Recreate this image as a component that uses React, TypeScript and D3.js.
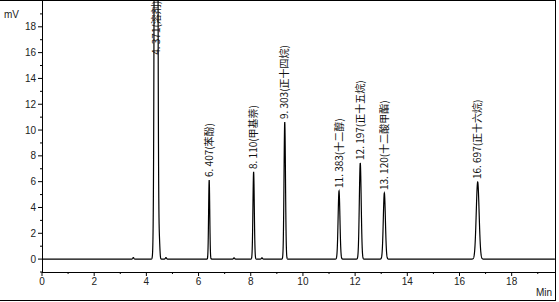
import React from "react";
import * as d3 from "d3";

// Peak table: retention time (min), height (mV), width sigma (min)
const peakTimes = [4.371, 4.5, 6.407, 8.11, 9.303, 11.383, 12.197, 13.12, 16.697];
const peakHeights = [130, 1.1, 6.13, 6.75, 10.62, 5.28, 7.45, 5.12, 5.97];
const peakWidths = [0.04, 0.02, 0.022, 0.026, 0.028, 0.035, 0.036, 0.04, 0.055];
// small baseline disturbances
const bumpTimes = [3.5, 4.75, 7.36, 8.43];
const bumpHeights = [0.12, 0.12, 0.1, 0.1];

const labelTimes = [4.371, 6.407, 8.11, 9.303, 11.383, 12.197, 13.12, 16.697];
const labelTexts = [
  "4. 371(溶剂)",
  "6. 407(苯酚)",
  "8. 110(甲基萘)",
  "9. 303(正十四烷)",
  "11. 383(十二醇)",
  "12. 197(正十五烷)",
  "13. 120(十二酸甲酯)",
  "16. 697(正十六烷)",
];
const labelHeights = [15.6, 6.13, 6.75, 10.62, 5.28, 7.45, 5.12, 5.97];

const xMajorTicks = [0, 2, 4, 6, 8, 10, 12, 14, 16, 18];
const xMinorTicks = [1, 3, 5, 7, 9, 11, 13, 15, 17, 19];
const yMajorTicks = [0, 2, 4, 6, 8, 10, 12, 14, 16, 18];
const yMinorTicks = [-1, 1, 3, 5, 7, 9, 11, 13, 15, 17, 19];

const W = 559;
const H = 302;
const left = 42;
const right = 555;
const axisY = 272;

export default function App() {
  const x = d3.scaleLinear().domain([0, 19.66]).range([left, right]);
  const y = d3.scaleLinear().domain([-1, 20]).range([axisY, 1]);

  const times = d3.range(0, 19.66, 0.004);
  const signal = (t: number) => {
    let v = 0;
    peakTimes.forEach((p, i) => {
      const d = (t - p) / peakWidths[i];
      if (Math.abs(d) < 8) v += peakHeights[i] * Math.exp(-0.5 * d * d);
    });
    bumpTimes.forEach((p, i) => {
      const d = (t - p) / 0.02;
      if (Math.abs(d) < 8) v += bumpHeights[i] * Math.exp(-0.5 * d * d);
    });
    return v;
  };
  const line = d3
    .line<number>()
    .x((t) => x(t))
    .y((t) => y(signal(t)));

  const font = "'Liberation Sans', Arial, sans-serif";
  const cjk = "'Noto Sans CJK SC', sans-serif";

  return (
    <svg
      width={W}
      height={H}
      style={{ position: "absolute", left: 0, top: 0, background: "#fff" }}
    >
      <defs>
        <clipPath id="plot">
          <rect x={left} y={0} width={right - left} height={axisY} />
        </clipPath>
      </defs>
      {/* frame */}
      <line x1={0} y1={0.5} x2={right} y2={0.5} stroke="#000" />
      <line x1={right + 0.5} y1={0} x2={right + 0.5} y2={301} stroke="#000" />
      <line x1={0} y1={300.5} x2={right} y2={300.5} stroke="#000" />

      {/* trace */}
      <path
        d={line(times) || ""}
        fill="none"
        stroke="#000"
        strokeWidth={1.2}
        clipPath="url(#plot)"
      />

      {/* y axis */}
      <line x1={left + 0.5} y1={0} x2={left + 0.5} y2={axisY} stroke="#000" />
      {yMajorTicks.map((v) => (
        <g key={"ym" + v}>
          <line x1={left - 4} x2={left} y1={y(v)} y2={y(v)} stroke="#000" />
          <text
            x={left - 6}
            y={y(v)}
            dy="0.35em"
            textAnchor="end"
            fontSize={10}
            fontFamily={font}
            fill="#222"
          >
            {v}
          </text>
        </g>
      ))}
      {yMinorTicks.map((v) => (
        <line key={"yn" + v} x1={left - 2} x2={left} y1={y(v)} y2={y(v)} stroke="#000" />
      ))}
      <text x={4} y={18} fontSize={10} fontFamily={font} fill="#222">
        mV
      </text>

      {/* x axis */}
      <line x1={left} y1={axisY + 0.5} x2={right} y2={axisY + 0.5} stroke="#000" />
      {xMajorTicks.map((v) => (
        <g key={"xm" + v}>
          <line x1={x(v)} x2={x(v)} y1={axisY} y2={axisY + 4} stroke="#000" />
          <text
            x={x(v)}
            y={axisY + 13}
            textAnchor="middle"
            fontSize={10}
            fontFamily={font}
            fill="#222"
          >
            {v}
          </text>
        </g>
      ))}
      {xMinorTicks.map((v) => (
        <line key={"xn" + v} x1={x(v)} x2={x(v)} y1={axisY} y2={axisY + 2} stroke="#000" />
      ))}
      <text x={536} y={296} fontSize={10} fontFamily={font} fill="#222">
        Min
      </text>

      {/* peak labels */}
      {labelTimes.map((t, i) => {
        const px = x(t);
        const py = y(labelHeights[i]) - 3;
        return (
          <text
            key={"lb" + i}
            transform={`translate(${px},${py}) rotate(-90)`}
            dy="0.35em"
            fontSize={10}
            fontFamily={cjk}
            fill="#111"
          >
            {labelTexts[i]}
          </text>
        );
      })}
    </svg>
  );
}
